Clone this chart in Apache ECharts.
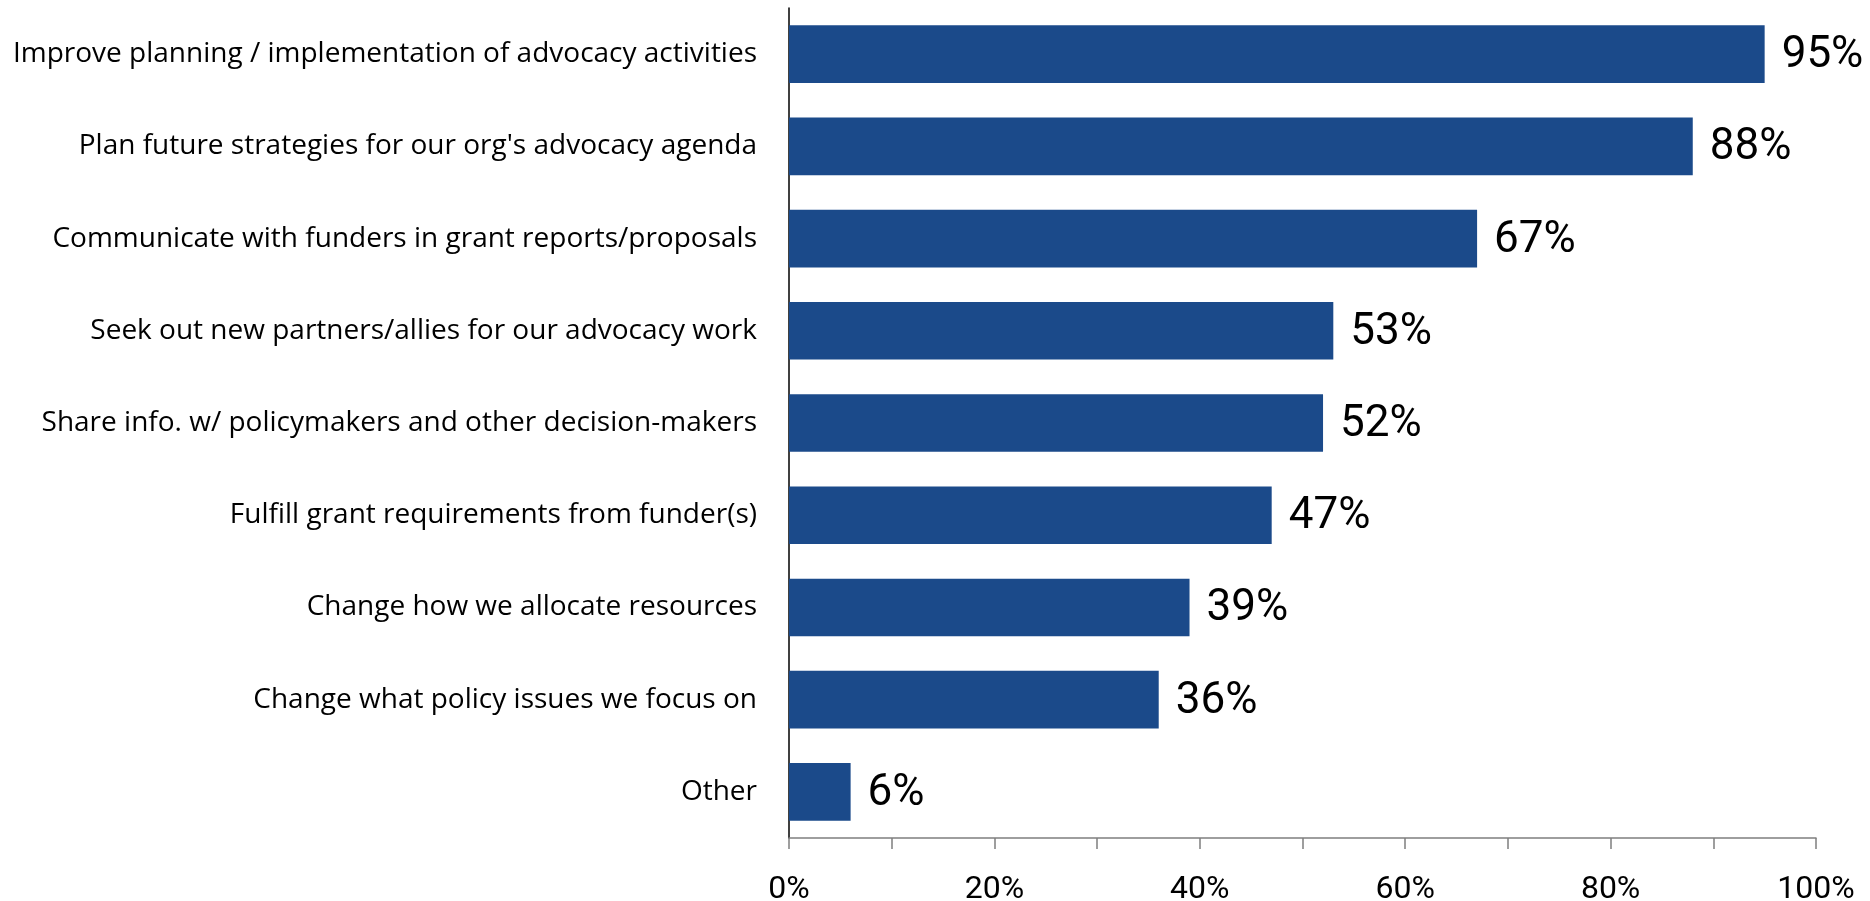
<!DOCTYPE html>
<html>
<head>
<meta charset="utf-8">
<title>Uses of advocacy evaluation findings</title>
<script src="https://cdn.jsdelivr.net/npm/echarts@6/dist/echarts.min.js"></script>
<style>
  html, body { margin: 0; padding: 0; background: #ffffff; }
  #chart { width: 1870px; height: 901px; }
</style>
</head>
<body>
<div id="chart"></div>
<script>
// Share of respondents citing each use (percent), top to bottom
const categories = [
  "Improve planning / implementation of advocacy activities",
  "Plan future strategies for our org's advocacy agenda",
  "Communicate with funders in grant reports/proposals",
  "Seek out new partners/allies for our advocacy work",
  "Share info. w/ policymakers and other decision-makers",
  "Fulfill grant requirements from funder(s)",
  "Change how we allocate resources",
  "Change what policy issues we focus on",
  "Other"
];
const values = [95, 88, 67, 53, 52, 47, 39, 36, 6];
const tickLabels = ["0%", "20%", "40%", "60%", "80%", "100%"];

const NUM_FONT = "Roboto, 'DejaVu Sans', sans-serif";
const TEXT_FONT = "'Open Sans', 'Noto Sans', sans-serif";
const chart = echarts.init(document.getElementById("chart"), null, { renderer: "canvas" });

chart.setOption({
  backgroundColor: "#ffffff",
  animation: false,
  grid: {
    left: 789, right: 54, top: 8, bottom: 63,
    containLabel: false,
    outerBoundsMode: "none"
  },
  xAxis: {
    type: "value",
    min: 0,
    max: 100,
    interval: 10,
    axisLine: { show: true, lineStyle: { color: "#7f7f7f", width: 1.5 } },
    axisTick: { show: true, inside: false, length: 11, lineStyle: { color: "#7f7f7f", width: 1.5 } },
    splitLine: { show: false },
    axisLabel: {
      margin: 36,
      color: "#000000",
      fontFamily: NUM_FONT,
      fontSize: 32,
      formatter: function (v) {
        return v % 20 === 0 ? tickLabels[v / 20] : "";
      }
    }
  },
  yAxis: {
    type: "category",
    inverse: true,
    data: categories,
    axisLine: { show: true, lineStyle: { color: "#000000", width: 1.5 } },
    axisTick: { show: false },
    splitLine: { show: false },
    axisLabel: {
      margin: 32,
      color: "#000000",
      fontFamily: TEXT_FONT,
      fontSize: 28
    }
  },
  series: [{
    type: "bar",
    data: values,
    barCategoryGap: "37.5%",
    itemStyle: { color: "#1b4a8a" },
    label: {
      show: true,
      position: "right",
      distance: 17,
      offset: [0, 2],
      color: "#000000",
      fontFamily: NUM_FONT,
      fontSize: 44,
      formatter: "{c}%"
    }
  }]
});
</script>
</body>
</html>
